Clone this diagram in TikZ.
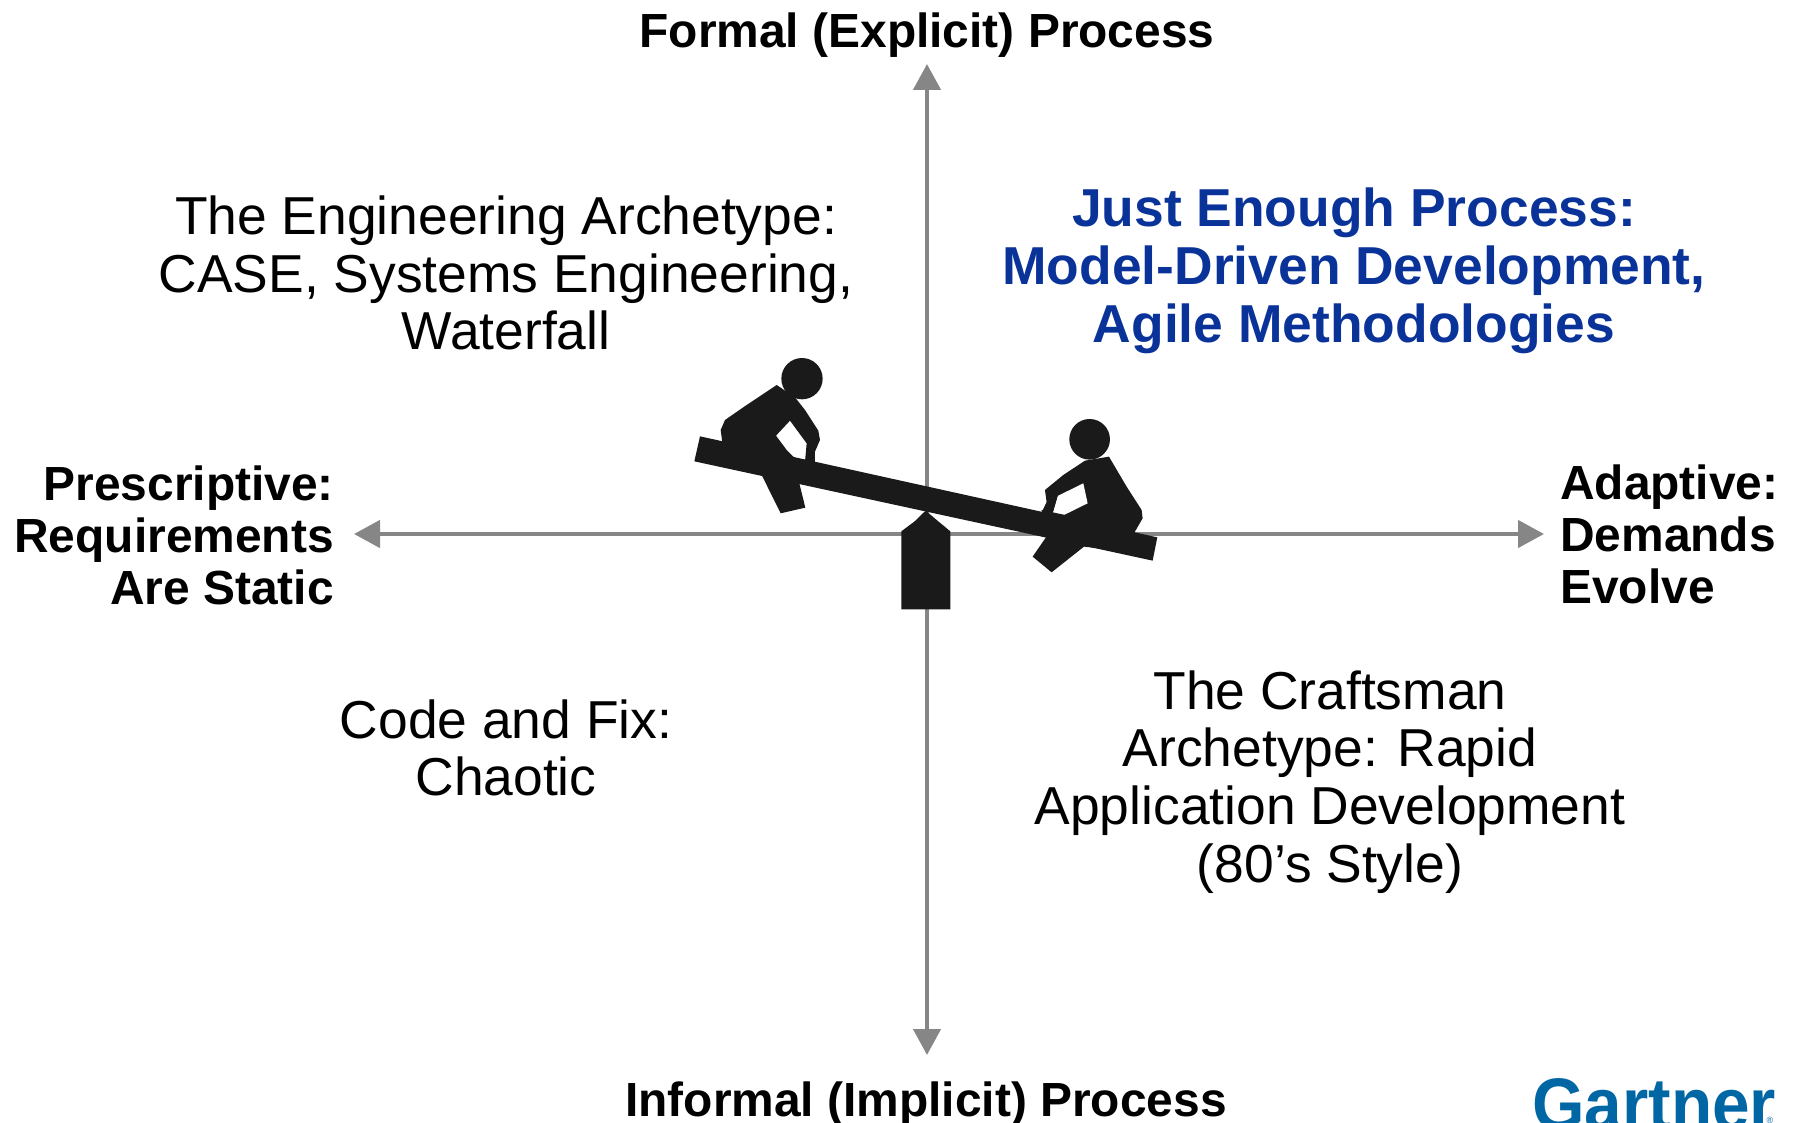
\documentclass[tikz,border=0pt]{standalone}
\usepackage{fontspec}
\setmainfont{Liberation Sans}
\usetikzlibrary{arrows.meta}
\definecolor{axisgray}{HTML}{868686}
\definecolor{inkblack}{HTML}{1A1A1A}
\definecolor{jepblue}{HTML}{0A3399}
\definecolor{gartnerblue}{HTML}{0066A4}
\tikzset{
  x=1pt,y=-1pt,
  axisline/.style={draw=axisgray,line width=4.5pt,-{Triangle[length=26pt,width=27pt]}},
  regular/.style={inner sep=0pt,align=center,font=\fontsize{53.4}{57.7}\selectfont},
  axislabel/.style={inner sep=0pt,font=\bfseries\fontsize{47.9}{52}\selectfont},
  silhouette/.style={fill=inkblack,draw=none},
}
\begin{document}
\begin{tikzpicture}
\useasboundingbox (0,0) rectangle (1795,1123);
\clip (0,0) rectangle (1795,1123);
\coordinate (c) at (927,534);
\coordinate (n) at (927,64);
\coordinate (s) at (927,1055);
\coordinate (w) at (354,534);
\coordinate (e) at (1544,534);
\draw[axisline] (c) -- (n);
\draw[axisline] (c) -- (s);
\draw[axisline] (c) -- (w);
\draw[axisline] (c) -- (e);
\begin{scope}[shift={(680,340)},x=0.3333pt,y=-0.3333pt]
  % plank
  \fill[silhouette] (60,289) -- (1432,592) -- (1418,662) -- (43,364) -- cycle;
  % fulcrum
  \fill[silhouette] (737,512) -- (770,540) -- (811,574) -- (811,808) -- (664,808) -- (664,574) -- (703,545) -- cycle;
  % left child
  \fill[silhouette] (366,116) circle[radius=62];
  \fill[silhouette] (290,135) -- (345,172) -- (375,210) -- (415,272) -- (420,300) -- (405,335) -- (405,375) -- (375,365) -- (380,310) -- (330,242) -- (288,287) -- (320,330) -- (350,360) -- (358,430) -- (376,503) -- (302,520) -- (245,405) -- (130,330) -- (122,270) -- (135,240) -- (200,195) -- cycle;
  % right child
  \fill[silhouette] (1229,298) circle[radius=61];
  \fill[silhouette] (1287,350) -- (1340,440) -- (1385,510) -- (1388,535) -- (1362,580) -- (1300,630) -- (1212,620) -- (1115,697) -- (1058,650) -- (1098,592) -- (1090,540) -- (1088,512) -- (1100,487) -- (1095,450) -- (1150,405) -- (1215,362) -- cycle;
  \fill[white] (1210,430) -- (1223,490) -- (1150,526) -- (1118,520) -- (1133,468) -- cycle;
  % restore plank over the gap of the right child
  \fill[silhouette] (1085,510) -- (1160,526) -- (1160,600) -- (1085,590) -- cycle;
  \fill[silhouette] (1088,512) -- (1118,520) -- (1133,468) -- (1100,487) -- cycle;
\end{scope}
\node[axislabel,anchor=center] (top) at (927,35) {Formal (Explicit) Process};
\node[axislabel,anchor=center] (bottom) at (926,1104) {Informal (Implicit) Process};
\node[axislabel,align=right,anchor=east] (left) at (334,535) {Prescriptive:\\Requirements\\Are Static};
\node[axislabel,align=left,anchor=west] (right) at (1560,534) {Adaptive:\\Demands\\Evolve};
\node[regular] (eng) at (506,273) {The Engineering Archetype:\\CASE, Systems Engineering,\\Waterfall};
\node[regular,font=\bfseries\fontsize{53.4}{57.7}\selectfont,text=jepblue] (jep) at (1354,271) {Just Enough Process:\\Model-Driven Development,\\Agile Methodologies};
\node[regular] (code) at (506,748) {Code and Fix:\\Chaotic};
\node[regular] (craft) at (1330,782) {The Craftsman\\Archetype: Rapid\\Application Development\\(80’s Style)};
\node[inner sep=0pt,anchor=base west,text=gartnerblue,font=\bfseries\fontsize{73}{73}\selectfont] (gartner) at (1532,1129) {\scalebox{0.925}[1]{Gartner}};
\node[inner sep=0pt,text=gartnerblue,font=\fontsize{9}{9}\selectfont] (reg) at (1770,1120) {®};
\end{tikzpicture}
\end{document}
